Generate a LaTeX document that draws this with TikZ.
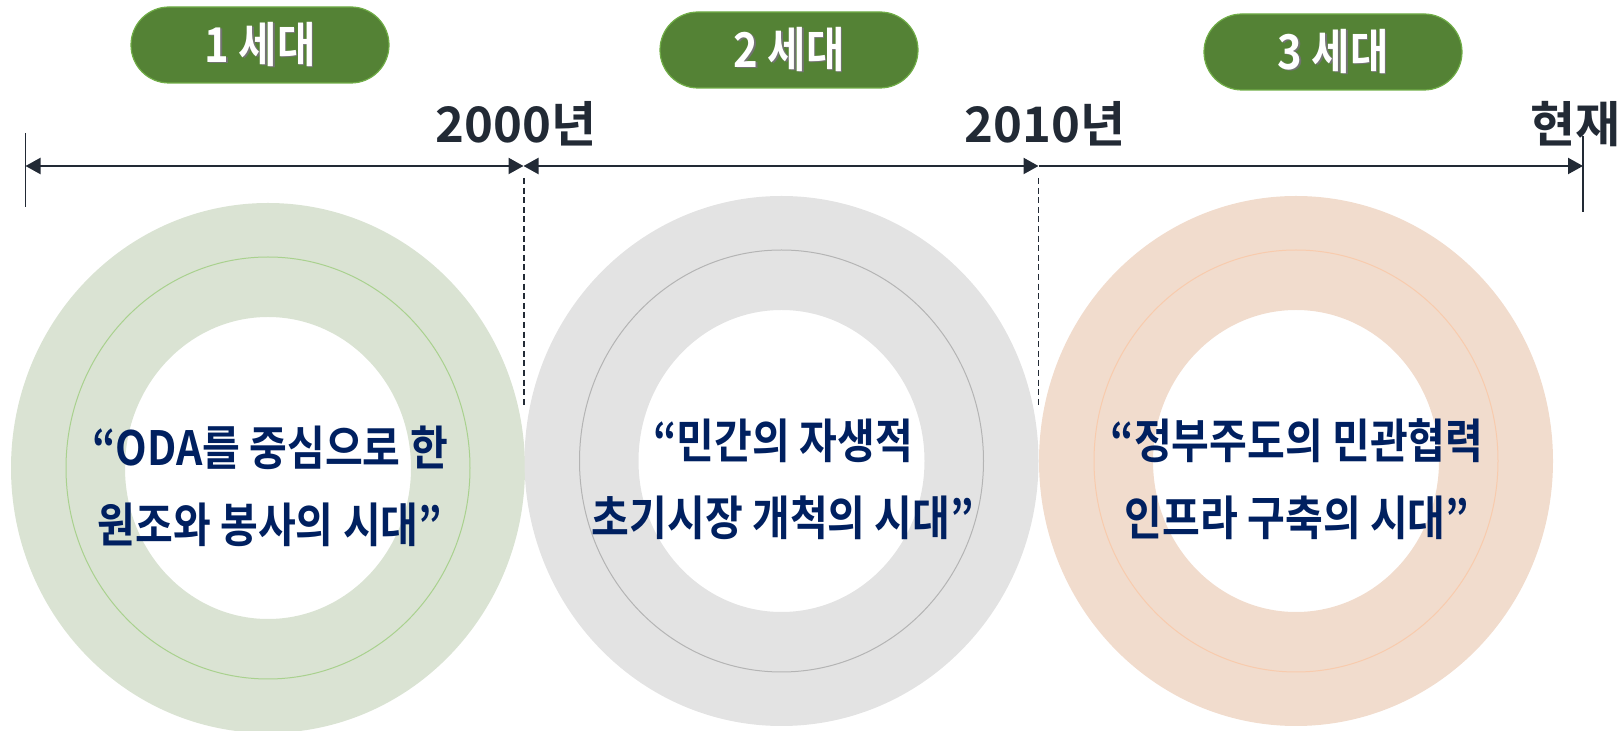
\documentclass[tikz,border=0pt]{standalone}
\usepackage{fontspec}
\usetikzlibrary{arrows.meta,shapes.misc}
\newfontfamily\yearfont{Noto Sans CJK KR Bold}
\newfontfamily\circbase{Noto Sans CJK KR Bold}[FakeStretch=0.87]
\definecolor{pillfill}{HTML}{548235}
\definecolor{pillborder}{HTML}{70AD47}
\definecolor{tl}{HTML}{222A35}
\definecolor{navy}{HTML}{002060}
\definecolor{ringA}{HTML}{DAE3D3}
\definecolor{ringAline}{HTML}{A9D18E}
\definecolor{ringB}{HTML}{E3E3E3}
\definecolor{ringBline}{HTML}{B4B4B4}
\definecolor{ringC}{HTML}{F1DCCD}
\definecolor{ringCline}{HTML}{F8CBAD}
\newcommand{\shadowed}[1]{\makebox[0pt][l]{\hspace{0.9pt}\raisebox{-0.9pt}{\color{black!55}#1}}#1}
\tikzset{
  pill/.style={rounded rectangle, fill=pillfill, draw=pillborder, line width=0.6pt,
    minimum width=129pt, minimum height=38pt, inner sep=0pt, text=white,
    font=\circbase\fontsize{24pt}{28pt}\selectfont},
  year/.style={anchor=base, text=tl, inner sep=0pt, font=\yearfont\fontsize{24.5pt}{28pt}\selectfont},
  tline/.style={draw=tl, line width=1.1pt},
  tipped/.style={{Triangle[length=7.5pt,width=8pt]}-{Triangle[length=7.5pt,width=8pt]}},
  endtip/.style={-{Triangle[length=7.5pt,width=8pt]}},
  tickline/.style={draw=tl, line width=0.8pt},
  guide/.style={draw=tl, line width=0.7pt, dash pattern=on 3pt off 1.8pt},
  ctext/.style={align=center, text=navy, inner sep=0pt,
    font=\circbase\fontsize{23.6pt}{38.5pt}\selectfont},
  thinring/.style={line width=0.5pt}
}
\begin{document}
\begin{tikzpicture}[x=0.5pt,y=-0.5pt]
\useasboundingbox (0,0) rectangle (1624,731);
% rings
\coordinate (c1) at (268,468);
\coordinate (c2) at (781.5,461);
\coordinate (c3) at (1296,461);
\fill[ringA, even odd rule] (c1) ellipse [x radius=128.5pt, y radius=132.5pt] (c1) ellipse [x radius=71.5pt, y radius=75.5pt];
\draw[ringAline, thinring] (c1) ellipse [x radius=101pt, y radius=105.5pt];
\fill[ringB, even odd rule] (c2) ellipse [x radius=128.5pt, y radius=132.5pt] (c2) ellipse [x radius=71.5pt, y radius=75.5pt];
\draw[ringBline, thinring] (c2) ellipse [x radius=101pt, y radius=105.5pt];
\fill[ringC, even odd rule] (c3) ellipse [x radius=128.5pt, y radius=132.5pt] (c3) ellipse [x radius=71.5pt, y radius=75.5pt];
\draw[ringCline, thinring] (c3) ellipse [x radius=101pt, y radius=105.5pt];
% pills
\node[pill] (g1) at (260,45) {\raisebox{-2pt}{\shadowed{1 세대}}};
\node[pill] (g2) at (789,50) {\raisebox{-2pt}{\shadowed{2 세대}}};
\node[pill] (g3) at (1333,52) {\raisebox{-2pt}{\shadowed{3 세대}}};
% timeline
\coordinate (a0) at (25.5,166);
\coordinate (a1) at (523.5,166);
\coordinate (a2) at (1038.5,166);
\coordinate (a3) at (1583,166);
\coordinate (k0t) at (25.5,133);
\coordinate (k0b) at (25.5,207);
\coordinate (k3t) at (1583,136);
\coordinate (k3b) at (1583,212);
\draw[tickline] (k0t) -- (k0b);
\draw[tickline] (k3t) -- (k3b);
\draw[tline, tipped] (a0) -- (a1);
\draw[tline, tipped] (a1) -- (a2);
\draw[tline, endtip] (a2) -- (a3);
% guides
\coordinate (d1t) at (524,178);
\coordinate (d1b) at (524,407);
\coordinate (d2t) at (1038.5,178);
\coordinate (d2b) at (1038.5,407);
\draw[guide] (d1t) -- (d1b);
\draw[guide] (d2t) -- (d2b);
% year labels
\node[year] (y1) at (516,142.5) {2000년};
\node[year] (y2) at (1045,142.5) {2010년};
\node[year] (y3) at (1575.5,142.5) {현재};
% circle texts
\node[ctext] (t1) at (270,486) {“ODA를 중심으로 한\\원조와 봉사의 시대”};
\node[ctext] (t2) at (783,479) {“민간의 자생적\\초기시장 개척의 시대”};
\node[ctext] (t3) at (1297,479) {“정부주도의 민관협력\\인프라 구축의 시대”};
\end{tikzpicture}
\end{document}
